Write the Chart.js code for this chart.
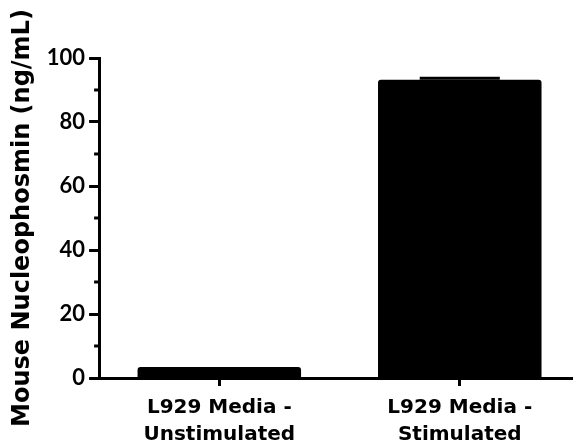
<!DOCTYPE html>
<html>
<head>
<meta charset="utf-8">
<script src="https://cdn.jsdelivr.net/npm/chart.js@4.4.1/dist/chart.umd.min.js"></script>
<style>
  html, body { margin: 0; padding: 0; background: #fff; overflow: hidden; }
  #wrap { width: 580px; height: 445px; position: relative; }
</style>
</head>
<body>
<div id="wrap"><canvas id="chart"></canvas></div>
<script>
const categories = [["L929 Media -", "Unstimulated"], ["L929 Media -", "Stimulated"]]
const means = [3.4, 93.2]
const errors = [0, 0.45]
const yTicks = [0, 20, 40, 60, 80, 100]
const minorTicks = [10, 30, 50, 70, 90]

// error bar caps + minor y ticks, placed through the chart scales
const extras = {
    id: "extras",
    afterDatasetsDraw(chart) {
        const ctx = chart.ctx
        const y = chart.scales.y
        const meta = chart.getDatasetMeta(0)
        ctx.save()
        ctx.strokeStyle = "#000"
        ctx.lineWidth = 3
        meta.data.forEach((bar, i) => {
            if (!errors[i]) return
            const top = y.getPixelForValue(means[i] + errors[i])
            const base = y.getPixelForValue(means[i])
            const half = bar.width * 0.245
            ctx.beginPath()
            ctx.moveTo(bar.x, base)
            ctx.lineTo(bar.x, top)
            ctx.moveTo(bar.x - half, top)
            ctx.lineTo(bar.x + half, top)
            ctx.stroke()
        })
        const left = chart.chartArea.left
        minorTicks.forEach(v => {
            const py = y.getPixelForValue(v)
            ctx.beginPath()
            ctx.moveTo(left, py)
            ctx.lineTo(left - 5, py)
            ctx.stroke()
        })
        ctx.restore()
    }
}

new Chart("chart", {
    type: "bar",
    data: {
        labels: categories,
        datasets: [{
            data: means,
            backgroundColor: "#000",
            borderRadius: 3,
            borderSkipped: "bottom",
            barPercentage: 0.68,
            categoryPercentage: 1
        }]
    },
    options: {
        responsive: true,
        maintainAspectRatio: false,
        animation: false,
        layout: { padding: { left: 8, top: 58, right: 0, bottom: -11 } },
        plugins: { legend: { display: false }, tooltip: { enabled: false } },
        scales: {
            x: {
                grid: { display: true, drawOnChartArea: false, offset: false, tickLength: 8, tickWidth: 3, tickColor: "#000" },
                border: { display: true, width: 3, color: "#000" },
                ticks: {
                    color: "#000",
                    padding: 8,
                    maxRotation: 0,
                    font: { family: "DejaVu Sans", weight: "bold", size: 20, lineHeight: 1.35 }
                }
            },
            y: {
                min: 0,
                max: 100,
                afterBuildTicks(scale) { scale.ticks = yTicks.map(v => ({ value: v })) },
                grid: { display: true, drawOnChartArea: false, tickLength: 10, tickWidth: 3, tickColor: "#000" },
                border: { display: true, width: 3, color: "#000" },
                ticks: {
                    color: "#000",
                    padding: 4,
                    font: { family: "Lato", weight: "bold", size: 22 }
                },
                title: {
                    display: true,
                    text: "Mouse Nucleophosmin (ng/mL)",
                    color: "#000",
                    padding: { top: 0, bottom: 6 },
                    font: { family: "DejaVu Sans", weight: "bold", size: 24, lineHeight: 1.2 }
                }
            }
        }
    },
    plugins: [extras]
})
</script>
</body>
</html>
